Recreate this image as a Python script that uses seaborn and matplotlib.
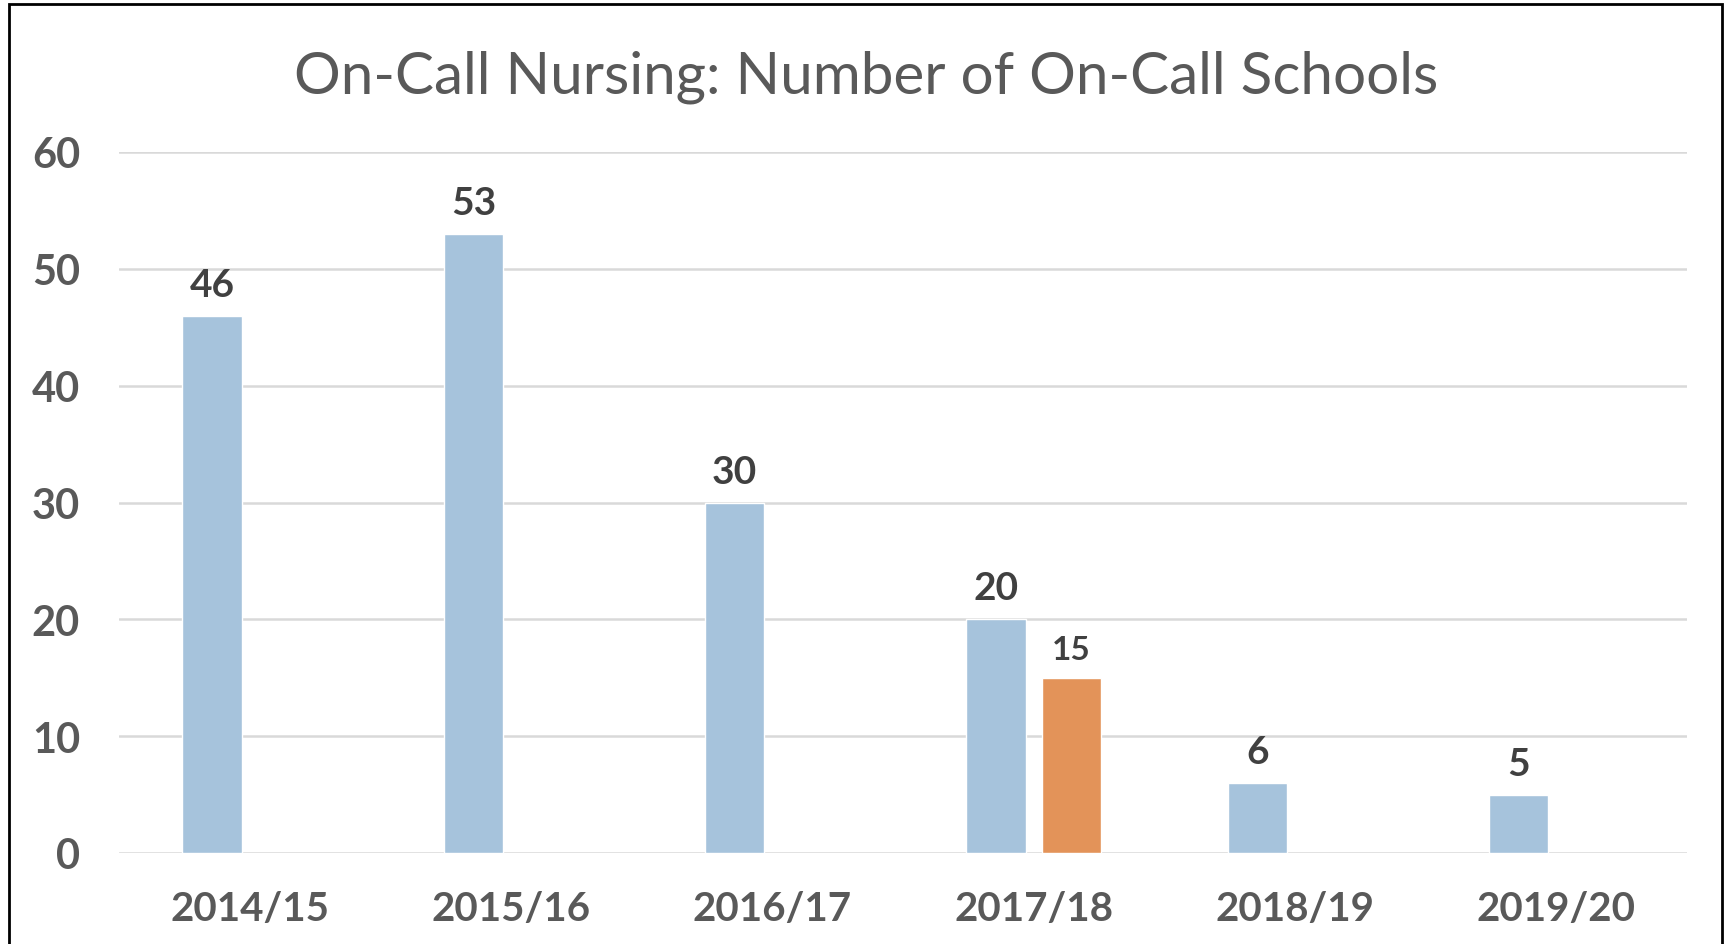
# on-call nursing bar chart
import numpy as np
import pandas as pd
import matplotlib
matplotlib.use('Agg')
import matplotlib.pyplot as plt
import seaborn as sns
from matplotlib.patches import Rectangle

# Data
years = ['2014/15', '2015/16', '2016/17', '2017/18', '2018/19', '2019/20']
schools = [46, 53, 30, 20, 6, 5]
schools_extra = [np.nan, np.nan, np.nan, 15, np.nan, np.nan]
series_names = ['On-Call Schools', 'Second Count']
y_ticks = [0, 10, 20, 30, 40, 50, 60]

blue = '#a6c3dc'
orange = '#e39359'
grey_text = '#595959'
dark_text = '#404040'

df = pd.DataFrame({
    'year': years * 2,
    'series': [series_names[0]] * len(years) + [series_names[1]] * len(years),
    'value': schools + schools_extra,
})

sns.set_theme(style='white')
plt.rcParams['font.family'] = ['Lato', 'DejaVu Sans']

fig = plt.figure(figsize=(17.29, 9.45), dpi=100)
ax = fig.add_axes([119 / 1729, 1 - 854 / 945, (1687 - 119) / 1729, (854 - 153) / 945])

sns.barplot(data=df, x='year', y='value', hue='series', order=years,
            hue_order=series_names, palette=[blue, orange],
            width=0.575, gap=0.21, saturation=1, legend=False, ax=ax)

ax.set_ylim(0, 60)
ax.set_yticks(y_ticks)
ax.yaxis.grid(True, color='#d9d9d9', linewidth=1.8)
ax.set_axisbelow(True)
for s in ax.spines.values():
    s.set_visible(False)
ax.set_xlabel('')
ax.set_ylabel('')
ax.tick_params(axis='y', length=0, labelsize=30, labelcolor=grey_text, pad=28)
ax.tick_params(axis='x', length=0, labelsize=29, labelcolor=grey_text, pad=27)
for lab in ax.get_xticklabels() + ax.get_yticklabels():
    lab.set_fontweight('bold')

# value labels
ax.bar_label(ax.containers[0], fmt='%g', padding=10, fontsize=28,
             fontweight='bold', color=dark_text)
ax.bar_label(ax.containers[1], fmt='%g', padding=10, fontsize=24,
             fontweight='bold', color=dark_text)

fig.text(866 / 1729, 1 - 77 / 945, 'On-Call Nursing: Number of On-Call Schools',
         ha='center', va='center', fontsize=42, color=grey_text)

# outer frame
fig.patches.append(Rectangle((9 / 1729, -0.01), (1722 - 9) / 1729, 1.01 - 5 / 945,
                             transform=fig.transFigure, fill=False,
                             edgecolor='black', linewidth=2))

fig.savefig('out.png', dpi=100)
